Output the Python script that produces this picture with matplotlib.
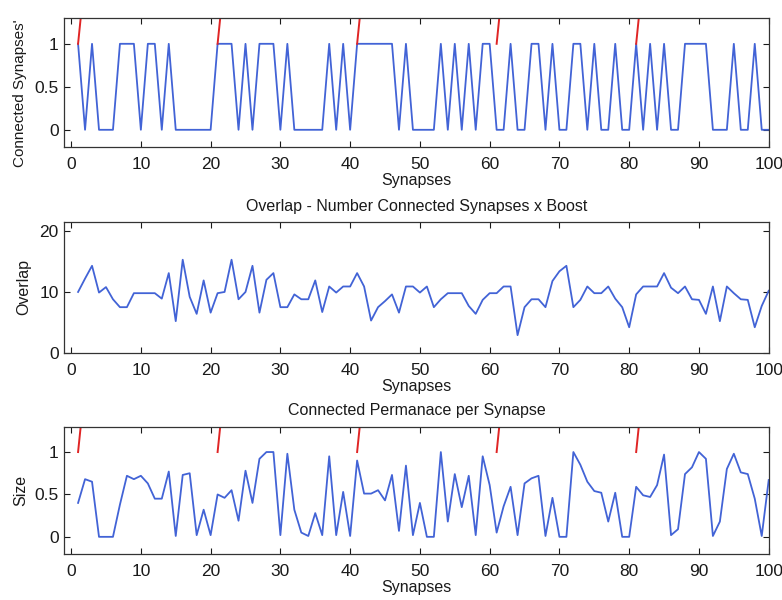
import numpy as np
import matplotlib
matplotlib.use("Agg")
import matplotlib.pyplot as plt

plt.rcParams['font.family'] = ['Liberation Sans', 'DejaVu Sans']

synapses = np.arange(1, 101)

connected = [1, 0, 1, 0, 0, 0, 1, 1, 1, 0,
             1, 1, 0, 1, 0, 0, 0, 0, 0, 0,
             1, 1, 1, 0, 1, 0, 1, 1, 1, 0,
             1, 0, 0, 0, 0, 0, 1, 0, 1, 0,
             1, 1, 1, 1, 1, 1, 0, 1, 0, 0,
             0, 0, 1, 0, 1, 0, 1, 0, 1, 1,
             0, 0, 1, 0, 0, 1, 1, 0, 1, 0,
             0, 1, 1, 0, 1, 0, 0, 1, 0, 0,
             1, 0, 1, 0, 1, 0, 0, 1, 1, 1,
             1, 0, 0, 0, 1, 0, 0, 1, 0, 0]

overlap = [10.0, 12.2, 14.3, 9.9, 10.8, 8.8, 7.5, 7.5, 9.8, 9.8,
           9.8, 9.8, 8.9, 13.1, 5.2, 15.3, 9.2, 6.4, 11.9, 6.6,
           9.8, 10.0, 15.3, 8.8, 10.0, 14.3, 6.6, 12.0, 13.1, 7.5,
           7.5, 9.6, 8.8, 8.8, 11.9, 6.7, 10.9, 9.9, 10.9, 10.9,
           13.1, 10.9, 5.3, 7.5, 8.5, 9.6, 6.6, 10.9, 10.9, 9.9,
           10.9, 7.5, 8.8, 9.8, 9.8, 9.8, 7.7, 6.4, 8.7, 9.8,
           9.8, 10.9, 10.9, 2.9, 7.5, 8.8, 8.8, 7.5, 11.8, 13.4,
           14.3, 7.5, 8.7, 10.9, 9.8, 9.8, 10.9, 8.9, 7.5, 4.2,
           9.6, 10.9, 10.9, 10.9, 13.1, 10.7, 9.8, 10.9, 8.8, 8.7,
           6.4, 10.9, 5.2, 10.9, 9.8, 8.8, 8.7, 4.2, 7.7, 10.2]

permanence = [0.40, 0.68, 0.65, 0.0, 0.0, 0.0, 0.38, 0.72, 0.68, 0.72,
              0.63, 0.45, 0.45, 0.77, 0.01, 0.73, 0.75, 0.02, 0.32, 0.02,
              0.50, 0.46, 0.55, 0.19, 0.78, 0.40, 0.92, 1.0, 1.0, 0.02,
              0.98, 0.32, 0.05, 0.01, 0.28, 0.02, 0.95, 0.02, 0.53, 0.01,
              0.90, 0.51, 0.51, 0.55, 0.43, 0.73, 0.07, 0.84, 0.02, 0.40,
              0.0, 0.0, 1.0, 0.18, 0.74, 0.35, 0.72, 0.02, 0.95, 0.61,
              0.05, 0.36, 0.59, 0.02, 0.63, 0.69, 0.72, 0.01, 0.46, 0.0,
              0.0, 1.0, 0.85, 0.65, 0.54, 0.52, 0.18, 0.52, 0.0, 0.0,
              0.59, 0.49, 0.47, 0.61, 0.97, 0.02, 0.09, 0.74, 0.82, 1.0,
              0.92, 0.01, 0.18, 0.80, 0.98, 0.76, 0.74, 0.45, 0.01, 0.67]

# red column markers (start of each column block)
red_x = [1, 21, 41, 61, 81]

xticks = np.arange(0, 101, 10)
blue = '#4263d6'
red = '#e02525'
txt = '#1a1a1a'

fig = plt.figure(figsize=(7.82, 6.0), dpi=100)
left, width = 0.082, 0.901
ax1 = fig.add_axes([left, 0.755, width, 0.215])
ax2 = fig.add_axes([left, 0.412, width, 0.218])
ax3 = fig.add_axes([left, 0.077, width, 0.212])


def style(ax):
    ax.set_xlim(-1, 100)
    ax.set_xticks(xticks)
    ax.tick_params(direction='in', top=True, right=True, labelsize=12.5,
                   length=4, width=0.8, colors=txt, pad=7)
    ax.tick_params(axis='y', pad=4)
    ax.set_xlabel('Synapses', fontsize=11.5, labelpad=1, color=txt)
    for s in ax.spines.values():
        s.set_linewidth(0.9)
        s.set_color('#333333')


def red_marks(ax):
    for x in red_x:
        ax.plot([x, x + 1], [1, 1.8], color=red, lw=1.4)


ax1.plot(synapses, connected, color=blue, lw=1.3)
red_marks(ax1)
ax1.set_ylim(-0.2, 1.3)
ax1.set_yticks([0, 0.5, 1])
ax1.set_yticklabels(['0', '0.5', '1'])
ax1.set_ylabel("Connected Synapses'", fontsize=11, color=txt)
ax1.yaxis.set_label_coords(-0.052, 0.42)
style(ax1)

ax2.plot(synapses, overlap, color=blue, lw=1.3)
ax2.set_ylim(0, 21.5)
ax2.set_yticks([0, 10, 20])
ax2.set_ylabel('Overlap', fontsize=11.5, labelpad=6, color=txt)
ax2.set_title('Overlap - Number Connected Synapses x Boost', fontsize=11.5,
              pad=8, color=txt)
style(ax2)

ax3.plot(synapses, permanence, color=blue, lw=1.3)
red_marks(ax3)
ax3.set_ylim(-0.2, 1.3)
ax3.set_yticks([0, 0.5, 1])
ax3.set_yticklabels(['0', '0.5', '1'])
ax3.set_ylabel('Size', fontsize=11.5, labelpad=4, color=txt)
ax3.set_title('Connected Permanace per Synapse', fontsize=11.5, pad=8, color=txt)
style(ax3)

fig.savefig('out.png', dpi=100)
